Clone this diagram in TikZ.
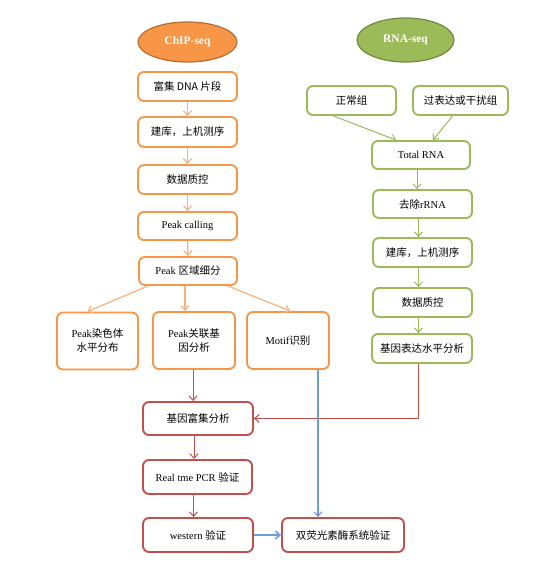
\documentclass[tikz,border=0pt]{standalone}
\usepackage{fontspec}
\setmainfont{Liberation Serif}
\newfontfamily\cjk{Noto Sans CJK SC}
\usetikzlibrary{arrows.meta,shapes.geometric}
\definecolor{orb}{HTML}{F79646}
\definecolor{ora}{HTML}{F9B27A}
\definecolor{ord}{HTML}{B66D31}
\definecolor{grb}{HTML}{9BBB59}
\definecolor{grd}{HTML}{71893F}
\definecolor{rdb}{HTML}{C0504D}
\definecolor{blb}{HTML}{6E9CDB}
\tikzset{
  bx/.style={draw, rounded corners=6pt, line width=1.9pt, fill=white, align=center, inner sep=1pt, font=\fontsize{10.5}{14}\selectfont},
  obox/.style={bx, draw=orb},
  gbox/.style={bx, draw=grb},
  rbox/.style={bx, draw=rdb},
  oval/.style={ellipse, line width=1.2pt, inner sep=0pt, text=white, font=\fontsize{11.5}{13}\selectfont\bfseries},
  arr/.style={line width=1pt, -{Straight Barb[length=4.5pt,width=8pt]}},
  oarr/.style={arr, draw=ora, line width=1.2pt},
  garr/.style={arr, draw=grb},
  rarr/.style={arr, draw=rdb},
  barr/.style={arr, draw=blb, line width=1.1pt},
}
\begin{document}
\begin{tikzpicture}[x=1pt,y=-1pt]
\useasboundingbox (0,0) rectangle (554,562);
% ChIP-seq column
\node[oval, fill=orb, draw=ord, minimum width=99pt, minimum height=40pt] (chip) at (187.5,42) {ChIP-seq};
\node[obox, minimum width=99pt, minimum height=29pt] (c1) at (187.5,86.5) {\cjk 富集 DNA 片段};
\node[obox, minimum width=99pt, minimum height=30pt] (c2) at (187.5,132) {\cjk 建库，上机测序};
\node[obox, minimum width=99pt, minimum height=29pt] (c3) at (187.5,179.5) {\cjk 数据质控};
\node[obox, minimum width=99pt, minimum height=28pt] (c4) at (187.5,226) {Peak calling};
\node[obox, minimum width=98pt, minimum height=28pt] (c5) at (188,271) {Peak {\cjk 区域细分}};
\node[obox, minimum width=81pt, minimum height=57pt] (p1) at (97.5,341) {Peak{\cjk 染色体}\\{\cjk 水平分布}};
\node[obox, minimum width=82pt, minimum height=57pt] (p2) at (194,340.5) {Peak{\cjk 关联基}\\{\cjk 因分析}};
\node[obox, minimum width=82pt, minimum height=57pt] (p3) at (288,340.5) {Motif{\cjk 识别}};
\node[rbox, minimum width=110pt, minimum height=33pt] (e1) at (198,418.5) {\cjk 基因富集分析};
\node[rbox, minimum width=109pt, minimum height=34pt] (e2) at (197.5,477) {Real tme PCR {\cjk 验证}};
\node[rbox, minimum width=110pt, minimum height=34pt] (e3) at (198,535) {western {\cjk 验证}};
\node[rbox, minimum width=122pt, minimum height=34pt] (luc) at (343,535) {\cjk 双荧光素酶系统验证};
% RNA-seq column
\node[oval, fill=grb, draw=grd, minimum width=97pt, minimum height=44pt] (rna) at (405.5,40) {RNA-seq};
\node[gbox, minimum width=89pt, minimum height=29pt] (g1) at (351.5,100.5) {\cjk 正常组};
\node[gbox, minimum width=95pt, minimum height=29pt] (g2) at (460.5,100.5) {\cjk 过表达或干扰组};
\node[gbox, minimum width=98pt, minimum height=28pt] (t1) at (421,155) {Total RNA};
\node[gbox, minimum width=99pt, minimum height=28pt] (t2) at (422.5,204) {{\cjk 去除}rRNA};
\node[gbox, minimum width=99pt, minimum height=29pt] (t3) at (422.5,252.5) {\cjk 建库，上机测序};
\node[gbox, minimum width=99pt, minimum height=29pt] (t4) at (422.5,302.5) {\cjk 数据质控};
\node[gbox, minimum width=100pt, minimum height=29pt] (t5) at (422,348.5) {\cjk 基因表达水平分析};
% orange arrows
\draw[oarr] (c1) -- (c2);
\draw[oarr] (c2) -- (c3);
\draw[oarr] (c3) -- (c4);
\draw[oarr] (c4) -- (c5);
\draw[oarr] ([xshift=10pt]c5.south west) -- ([xshift=-10pt]p1.north);
\draw[oarr] ([xshift=-3pt]c5.south) -- ([xshift=-3pt]c5.south |- p2.north);
\draw[oarr] ([xshift=-10pt]c5.south east) -- ([xshift=2pt]p3.north);
% green arrows
\draw[garr] ([xshift=-18pt]g1.south) -- ([xshift=-25pt]t1.north);
\draw[garr] ([xshift=-8pt]g2.south) -- ([xshift=12pt]t1.north);
\draw[garr] ([xshift=-4pt]t1.south) -- ([xshift=-4pt]t1.south |- t2.north);
\draw[garr] ([xshift=-4pt]t2.south) -- ([xshift=-4pt]t2.south |- t3.north);
\draw[garr] ([xshift=-4pt]t3.south) -- ([xshift=-4pt]t3.south |- t4.north);
\draw[garr] ([xshift=-4pt]t4.south) -- ([xshift=-4pt]t4.south |- t5.north);
% red arrows
\draw[rarr] ([xshift=-1pt]p2.south) -- ([xshift=-1pt]p2.south |- e1.north);
\draw[rarr] ([xshift=-4pt]e1.south) -- ([xshift=-4pt]e1.south |- e2.north);
\draw[rarr] ([xshift=-4pt]e2.south) -- ([xshift=-4pt]e2.south |- e3.north);
\draw[rarr] ([xshift=-4pt]t5.south) |- (e1.east);
% blue arrows
\draw[barr] ([xshift=-12pt]p3.south east) -- ([xshift=-12pt]p3.south east |- luc.north);
\draw[barr, line width=1.6pt] (e3) -- (luc);
\end{tikzpicture}
\end{document}
